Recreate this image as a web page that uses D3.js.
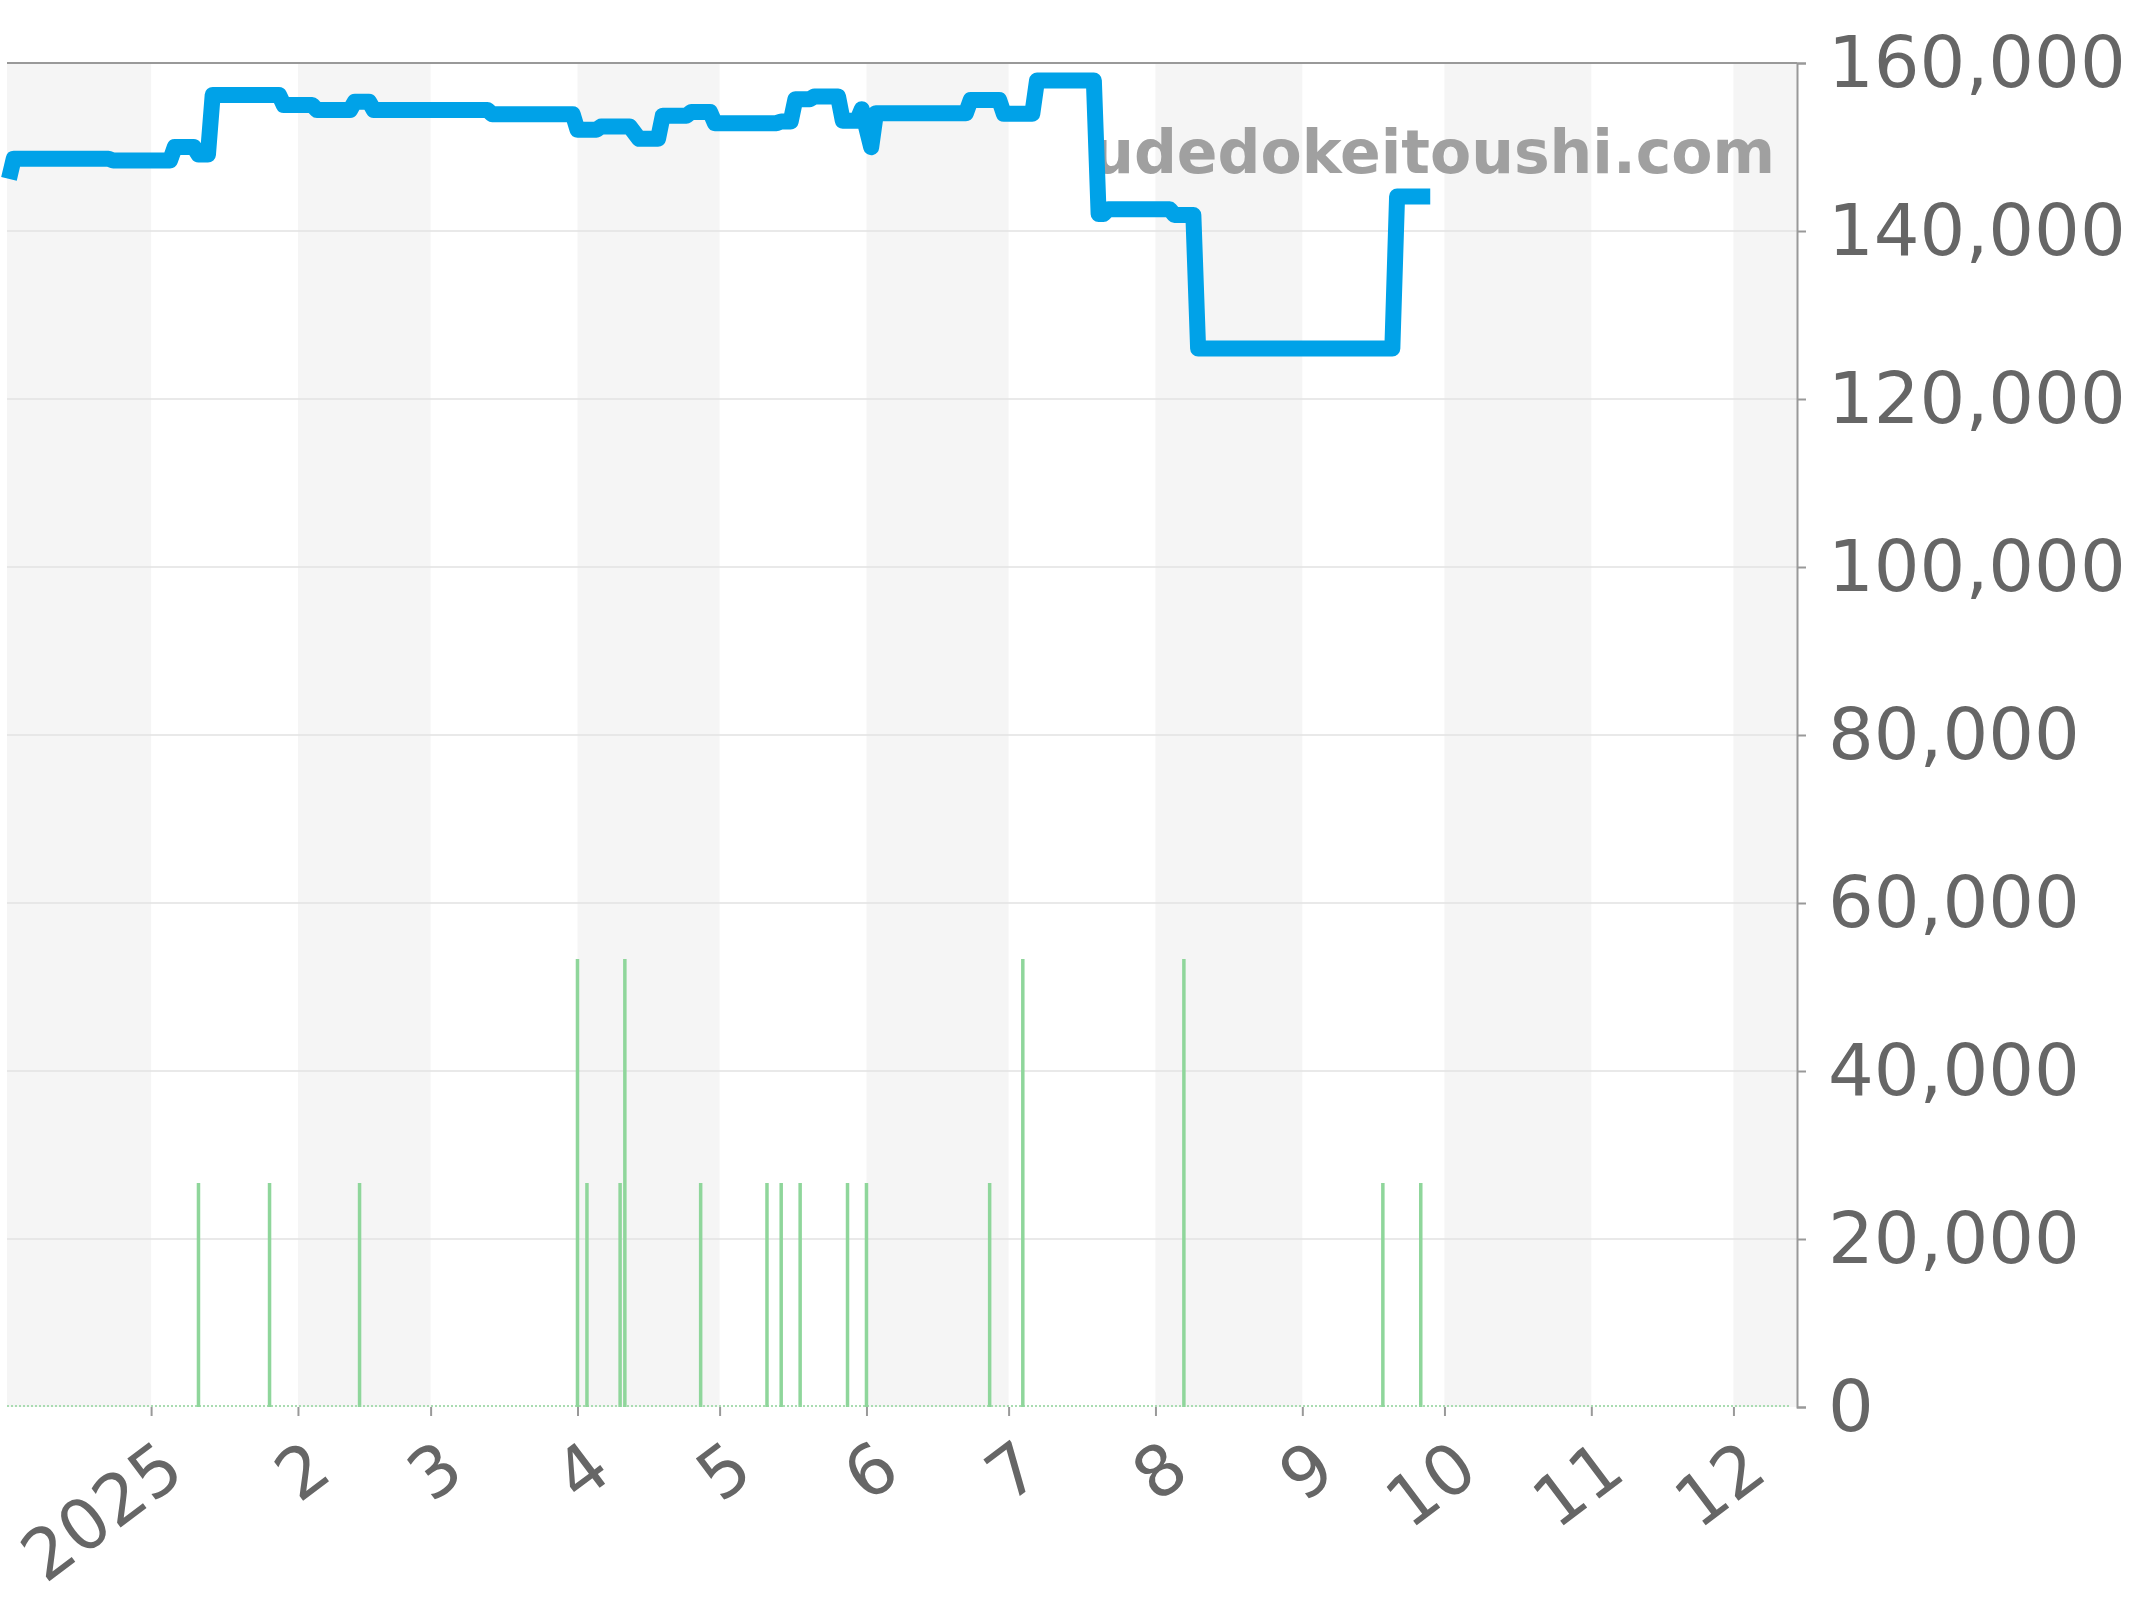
<!DOCTYPE html>
<html>
<head>
<meta charset="utf-8">
<script src="https://cdn.jsdelivr.net/npm/d3@7"></script>
<style>
body { margin: 0; background: #fff; }
text { font-family: "DejaVu Sans", sans-serif; }
</style>
</head>
<body>
<svg id="chart" width="2144" height="1600"></svg>
<script>
// price line (vertices)
var priceDates = ["2024-12-02","2024-12-03","2024-12-23","2024-12-24","2025-01-05","2025-01-06",
  "2025-01-10","2025-01-11","2025-01-13","2025-01-14","2025-01-28","2025-01-29","2025-02-04","2025-02-05",
  "2025-02-12","2025-02-13","2025-02-16","2025-02-17","2025-03-13","2025-03-14","2025-03-31","2025-04-01",
  "2025-04-05","2025-04-06","2025-04-12","2025-04-14","2025-04-18","2025-04-19","2025-04-24","2025-04-25",
  "2025-04-29","2025-04-30","2025-05-13","2025-05-14","2025-05-16","2025-05-17","2025-05-20","2025-05-21",
  "2025-05-26","2025-05-27","2025-05-30","2025-05-31","2025-06-02","2025-06-03","2025-06-22","2025-06-23",
  "2025-06-29","2025-06-30","2025-07-06","2025-07-07","2025-07-19","2025-07-20","2025-07-21","2025-07-22",
  "2025-08-04","2025-08-05","2025-08-09","2025-08-10","2025-09-20","2025-09-21","2025-09-28"];
var priceValues = [146200,148600,148600,148400,148400,150000,
  150000,149100,149100,156200,156200,155000,155000,154400,
  154400,155400,155400,154400,154400,153900,153900,152050,
  152050,152450,152450,150980,150980,153720,153720,154160,
  154160,152840,152840,153040,153040,155690,155690,156010,
  156010,153120,153120,154500,149970,154030,154030,155610,
  155610,153950,153950,157920,157920,142030,142030,142590,
  142590,141910,141910,126020,126020,144100,144100];

// number of sales per day (green bars)
var salesDates = ["2025-01-11","2025-01-26","2025-02-14","2025-04-01","2025-04-03","2025-04-10","2025-04-11",
  "2025-04-27","2025-05-11","2025-05-14","2025-05-18","2025-05-28","2025-06-01","2025-06-27","2025-07-04",
  "2025-08-07","2025-09-18","2025-09-26"];
var salesCounts = [1,1,1,2,1,1,2,1,1,1,1,1,1,1,2,2,1,1];

var yTicks = [0,20000,40000,60000,80000,100000,120000,140000,160000];
var monthTicks = ["2025-01-01","2025-02-01","2025-03-01","2025-04-01","2025-05-01","2025-06-01",
  "2025-07-01","2025-08-01","2025-09-01","2025-10-01","2025-11-01","2025-12-01"];
var monthLabels = ["2025","2","3","4","5","6","7","8","9","10","11","12"];

var parse = d3.timeParse("%Y-%m-%d");
var plotLeft = 7, plotRight = 1797, plotTop = 63, plotBottom = 1407;

var svg = d3.select("#chart");

var x = d3.scaleTime()
  .domain([new Date(2024, 11, 1, 14), new Date(2025, 11, 14, 10)])
  .range([plotLeft, plotRight]);
var y = d3.scaleLinear().domain([0, 160000]).range([plotBottom, plotTop]);
var yCount = d3.scaleLinear().domain([0, 6]).range([plotBottom, plotTop]);

// alternating month stripes
var months = d3.timeMonth.range(new Date(2024, 11, 1), new Date(2026, 0, 1));
svg.append("g").selectAll("rect")
  .data(months.filter(function(m, i) { return i % 2 == 0; }))
  .enter().append("rect")
    .attr("x", function(m) { return Math.max(plotLeft, x(m)); })
    .attr("y", plotTop)
    .attr("width", function(m) { return Math.min(plotRight, x(d3.timeMonth.offset(m, 1))) - Math.max(plotLeft, x(m)); })
    .attr("height", plotBottom - plotTop)
    .attr("fill", "#f5f5f5");

// grid
svg.append("g").selectAll("line")
  .data(yTicks.slice(1, -1))
  .enter().append("line")
    .attr("x1", plotLeft).attr("x2", plotRight)
    .attr("y1", function(d) { return y(d); })
    .attr("y2", function(d) { return y(d); })
    .attr("stroke", "#e2e2e2").attr("stroke-width", 1.5);

svg.append("line")
  .attr("x1", plotLeft).attr("x2", plotRight)
  .attr("y1", plotTop).attr("y2", plotTop)
  .attr("stroke", "#999").attr("stroke-width", 2);

// watermark
svg.append("text")
  .attr("x", 1775).attr("y", 173)
  .attr("text-anchor", "end")
  .attr("font-size", 60)
  .attr("font-weight", "bold")
  .attr("fill", "#a0a0a0")
  .text("udedokeitoushi.com");

// zero line of the sales series
svg.append("line")
  .attr("x1", plotLeft).attr("x2", plotRight - 6)
  .attr("y1", plotBottom - 1).attr("y2", plotBottom - 1)
  .attr("stroke", "#a9dcb1").attr("stroke-width", 2)
  .attr("stroke-dasharray", "2,2");

// sales bars
svg.append("g").selectAll("rect")
  .data(salesDates)
  .enter().append("rect")
    .attr("x", function(d) { return x(parse(d)) - 1.75; })
    .attr("y", function(d, i) { return yCount(salesCounts[i]); })
    .attr("width", 3.5)
    .attr("height", function(d, i) { return plotBottom - yCount(salesCounts[i]); })
    .attr("fill", "#8fd69b");

// price line
var pts = priceDates.map(function(d, i) { return { date: parse(d), value: priceValues[i] }; });
var line = d3.line()
  .x(function(d) { return x(d.date); })
  .y(function(d) { return y(d.value); });

svg.append("path")
  .datum(pts)
  .attr("d", line)
  .attr("fill", "none")
  .attr("stroke", "#00a2e8")
  .attr("stroke-width", 16)
  .attr("stroke-linejoin", "round")
  .attr("stroke-linecap", "butt");

// right axis
var yAxis = d3.axisRight(y)
  .tickValues(yTicks)
  .tickSize(9)
  .tickPadding(22)
  .tickFormat(d3.format(","));

var ya = svg.append("g")
  .attr("transform", "translate(" + plotRight + ",0)")
  .call(yAxis);
ya.select(".domain").attr("stroke", "#999").attr("stroke-width", 2);
ya.selectAll(".tick line").attr("stroke", "#999").attr("stroke-width", 2);
ya.selectAll(".tick text")
  .attr("font-size", 72)
  .attr("font-family", "DejaVu Sans")
  .attr("fill", "#666");

// bottom axis
var xAxis = d3.axisBottom(x)
  .tickValues(monthTicks.map(parse))
  .tickSize(9)
  .tickFormat(function(d, i) { return monthLabels[i]; });

var xa = svg.append("g")
  .attr("transform", "translate(0," + plotBottom + ")")
  .call(xAxis);
xa.select(".domain").remove();
xa.selectAll(".tick line").attr("stroke", "#999").attr("stroke-width", 2);
xa.selectAll(".tick text")
  .attr("font-size", 70)
  .attr("font-family", "DejaVu Sans")
  .attr("fill", "#666")
  .attr("text-anchor", "end")
  .attr("y", 0)
  .attr("dy", 0)
  .attr("transform", "translate(36,70) rotate(-37)");
</script>
</body>
</html>
